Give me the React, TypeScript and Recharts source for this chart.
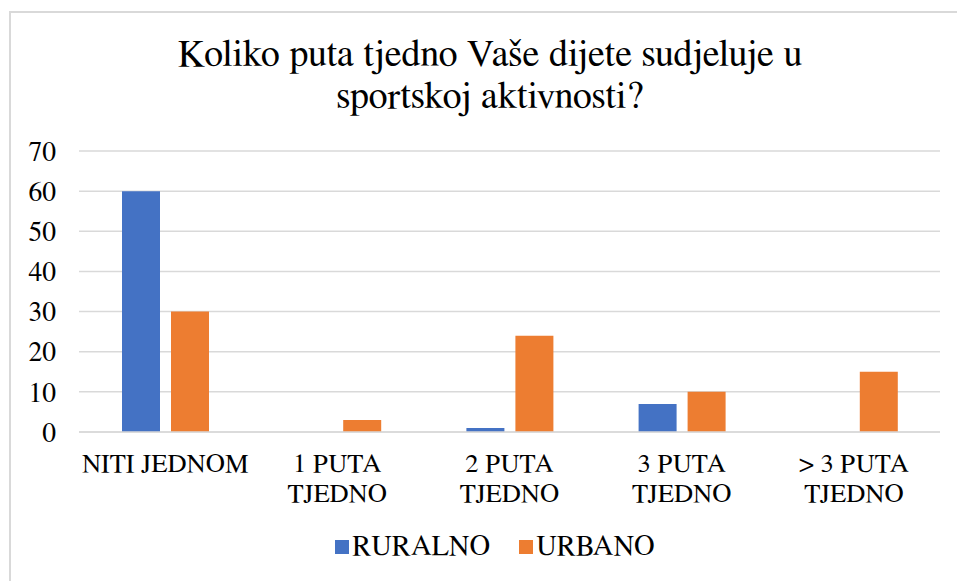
import { BarChart, Bar, XAxis, YAxis, CartesianGrid } from 'recharts'

const categories = ['NITI JEDNOM', '1 PUTA TJEDNO', '2 PUTA TJEDNO', '3 PUTA TJEDNO', '> 3 PUTA TJEDNO']
const ruralno = [60, 0, 1, 7, 0]
const urbano = [30, 3, 24, 10, 15]
const yTicks = [0, 10, 20, 30, 40, 50, 60, 70]

const seriesNames = ['RURALNO', 'URBANO']
const seriesColors = ['#4472C4', '#ED7D31']

const data = categories.map((c, i) => ({ name: c, ruralno: ruralno[i], urbano: urbano[i] }))

const font = "'FreeSerif', 'Liberation Serif', serif"

function CategoryTick({ x, y, payload }: any) {
  const text: string = payload.value
  const idx = text.indexOf(' TJEDNO')
  const lines = idx > 0 ? [text.slice(0, idx), text.slice(idx + 1)] : [text]
  return (
    <text x={x} y={y} textAnchor="middle" fill="#000" fontSize={26.5} fontFamily={font}>
      {lines.map((l, i) => (
        <tspan key={i} x={x} dy={i === 0 ? 32 : 30}>{l}</tspan>
      ))}
    </text>
  )
}

export default function App() {
  return (
    <div style={{ position: 'absolute', left: 0, top: 0, width: 957, height: 581, background: '#fff', overflow: 'hidden', fontFamily: font }}>
      <div style={{ position: 'absolute', left: 9, top: 11, width: 960, height: 600, border: '2px solid #d9d9d9', boxSizing: 'border-box' }} />
      <div style={{ position: 'absolute', left: 0, top: 34, width: 980, textAlign: 'center', fontFamily: font, fontSize: 38, lineHeight: '42px', color: '#000' }}>
        Koliko puta tjedno Vaše dijete sudjeluje u<br />sportskoj aktivnosti?
      </div>
      <div style={{ position: 'absolute', left: 0, top: 0 }}>
        <BarChart width={957} height={581} data={data} margin={{ top: 151, right: 17, left: 19, bottom: 69 }} barSize={38} barGap={11}>
          <CartesianGrid vertical={false} stroke="#d9d9d9" strokeWidth={1.5} />
          <XAxis dataKey="name" tick={<CategoryTick />} tickLine={false} axisLine={{ stroke: '#d9d9d9', strokeWidth: 1.5 }} interval={0} height={80} />
          <YAxis width={60} domain={[0, 70]} ticks={yTicks} tickLine={false} axisLine={false} tickSize={0} tickMargin={23}
            tick={{ fill: '#000', fontSize: 27.5, fontFamily: font }} />
          <Bar dataKey="ruralno" name={seriesNames[0]} fill={seriesColors[0]} isAnimationActive={false} />
          <Bar dataKey="urbano" name={seriesNames[1]} fill={seriesColors[1]} isAnimationActive={false} />
        </BarChart>
      </div>
      <div style={{ position: 'absolute', left: 0, top: 531, width: 990, display: 'flex', justifyContent: 'center', fontFamily: font, fontSize: 28.5, color: '#000' }}>
        {seriesNames.map((n, i) => (
          <div key={n} style={{ display: 'flex', alignItems: 'center', marginRight: i === 0 ? 29 : 0 }}>
            <span style={{ display: 'inline-block', width: 14, height: 14, background: seriesColors[i], marginRight: 3 }} />
            <span>{n}</span>
          </div>
        ))}
      </div>
    </div>
  )
}
